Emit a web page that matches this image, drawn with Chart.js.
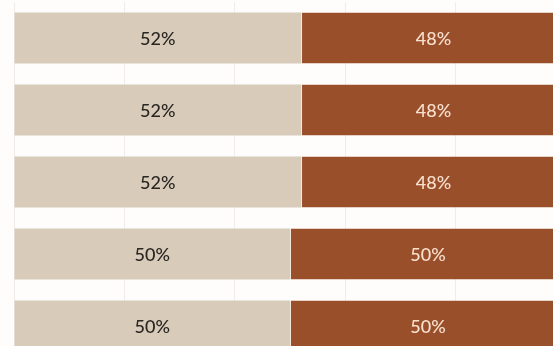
<!DOCTYPE html>
<html>
<head>
<meta charset="utf-8">
<script src="https://cdn.jsdelivr.net/npm/chart.js@4"></script>
<style>
    html, body { margin: 0; padding: 0; background: #fffdfc; overflow: hidden; }
    body { width: 553px; height: 346px; position: relative; }
    #wrap { position: absolute; left: 0; top: 0; width: 566px; height: 362px; }
</style>
</head>
<body>
<div id="wrap"><canvas id="chart"></canvas></div>
<script>
const categories = ["Group 1", "Group 2", "Group 3", "Group 4", "Group 5"];
const leftShare = [52, 52, 52, 50, 50];   // beige segment, %
const rightShare = [48, 48, 48, 50, 50];  // brown segment, %

const BEIGE = "#d8cbb9";
const BROWN = "#9a4f2b";

// Writes each segment's value in the middle of its bar
const segmentLabels = {
    id: "segmentLabels",
    afterDatasetsDraw(chart) {
        const ctx = chart.ctx;
        ctx.save();
        ctx.font = "500 18px Lato, 'Open Sans', sans-serif";
        ctx.textAlign = "center";
        ctx.textBaseline = "middle";
        chart.data.datasets.forEach((ds, i) => {
            const meta = chart.getDatasetMeta(i);
            meta.data.forEach((bar, j) => {
                const p = bar.getProps(["x", "y", "base"], true);
                ctx.fillStyle = ds.labelColor;
                ctx.fillText(ds.data[j] + "%", (p.x + p.base) / 2, p.y + 1);
            });
        });
        ctx.restore();
    }
};

new Chart(document.getElementById("chart"), {
    type: "bar",
    data: {
        labels: categories,
        datasets: [
            {
                data: leftShare,
                backgroundColor: BEIGE,
                labelColor: "#2a2622",
                borderWidth: 0,
            },
            {
                data: rightShare,
                backgroundColor: BROWN,
                labelColor: "#f8e0cf",
                borderColor: "#f4e8de",
                borderWidth: { left: 1, top: 0, right: 0, bottom: 0 },
                borderSkipped: false,
            },
        ],
    },
    options: {
        indexAxis: "y",
        responsive: true,
        maintainAspectRatio: false,
        animation: false,
        layout: { padding: { left: 14, top: 2, right: 0, bottom: 0 } },
        categoryPercentage: 0.71,
        barPercentage: 1,
        plugins: {
            legend: { display: false },
            tooltip: { enabled: false },
        },
        scales: {
            x: {
                stacked: true,
                min: 0,
                max: 100,
                ticks: { display: false, stepSize: 20 },
                grid: { color: "#f0ece9", drawTicks: false },
                border: { display: false },
            },
            y: {
                stacked: true,
                display: false,
            },
        },
    },
    plugins: [segmentLabels],
});
</script>
</body>
</html>
